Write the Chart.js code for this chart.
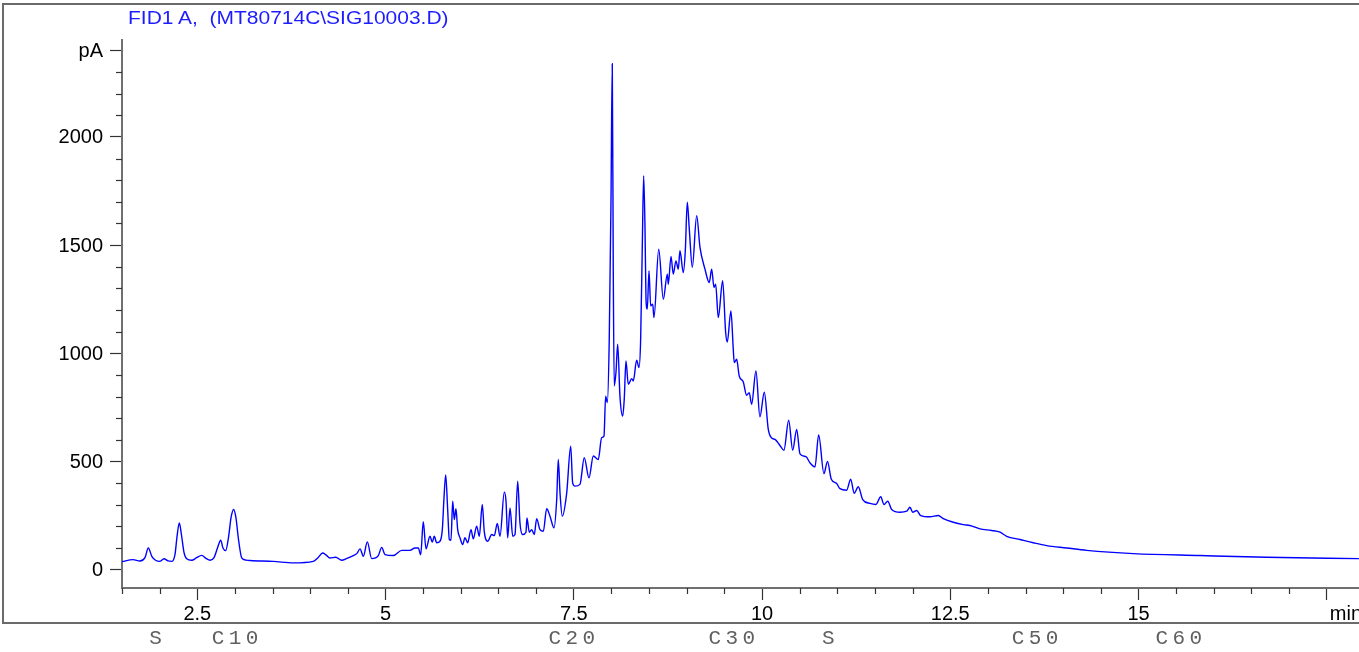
<!DOCTYPE html>
<html>
<head>
<meta charset="utf-8">
<script src="https://cdn.jsdelivr.net/npm/chart.js@4/dist/chart.umd.min.js"></script>
<style>
html,body{margin:0;padding:0;background:#fff;}
#wrap{position:relative;width:1359px;height:652px;overflow:hidden;background:#fff;}
#frame{position:absolute;left:2px;top:3px;width:1400px;height:617px;border-left:2px solid #6a6a6a;border-top:2px solid #6a6a6a;border-bottom:2px solid #6a6a6a;}
#title{position:absolute;left:128px;top:9px;font-family:"Liberation Sans",Arial,sans-serif;font-size:18px;line-height:18px;color:#1c1cff;white-space:pre;transform:scaleX(1.165);transform-origin:0 0;}
#c{position:absolute;left:0;top:0;}
</style>
</head>
<body>
<div id="wrap">
  <div id="frame"></div>
  <canvas id="c" width="1359" height="652"></canvas>
  <div id="title"></div>
</div>
<script>
// ---- data ----
const retentionTimes = [
  1.5, 1.646, 1.739, 1.805, 1.849, 1.898, 1.95, 2.005, 2.058, 2.111, 2.164, 2.204, 2.23, 2.261, 2.29, 2.323, 2.359,
  2.426, 2.49, 2.558, 2.615, 2.669, 2.722, 2.768, 2.811, 2.841, 2.877, 2.915, 2.948, 2.983, 3.013, 3.047, 3.09,
  3.147, 3.2, 3.509, 3.775, 4.04, 4.103, 4.165, 4.209, 4.262, 4.338, 4.418, 4.488, 4.572, 4.621, 4.661, 4.705,
  4.758, 4.816, 4.904, 4.949, 4.993, 5.103, 5.215, 5.325, 5.391, 5.435, 5.467, 5.501, 5.537, 5.59, 5.621, 5.647,
  5.679, 5.723, 5.754, 5.776, 5.799, 5.825, 5.847, 5.869, 5.892, 5.913, 5.935, 5.958, 5.989, 6.024, 6.055, 6.091,
  6.135, 6.165, 6.21, 6.245, 6.285, 6.311, 6.356, 6.41, 6.444, 6.484, 6.52, 6.577, 6.6, 6.622, 6.653, 6.689,
  6.719, 6.755, 6.785, 6.821, 6.865, 6.878, 6.909, 6.941, 6.975, 7.007, 7.051, 7.095, 7.14, 7.184, 7.237, 7.273,
  7.294, 7.317, 7.347, 7.406, 7.459, 7.485, 7.516, 7.582, 7.639, 7.702, 7.759, 7.825, 7.87, 7.901, 7.923, 7.945,
  7.971, 7.994, 8.011, 8.024, 8.037, 8.06, 8.083, 8.113, 8.149, 8.17, 8.193, 8.224, 8.269, 8.29, 8.335, 8.366,
  8.388, 8.41, 8.428, 8.446, 8.459, 8.476, 8.499, 8.521, 8.548, 8.565, 8.628, 8.689, 8.742, 8.755, 8.791, 8.821,
  8.857, 8.888, 8.91, 8.954, 8.981, 9.007, 9.034, 9.074, 9.132, 9.176, 9.242, 9.299, 9.331, 9.362, 9.384, 9.419,
  9.477, 9.517, 9.538, 9.587, 9.618, 9.631, 9.663, 9.697, 9.75, 9.795, 9.83, 9.862, 9.919, 9.972, 10.03, 10.083,
  10.128, 10.172, 10.238, 10.291, 10.354, 10.407, 10.46, 10.504, 10.583, 10.636, 10.703, 10.752, 10.822, 10.869, 10.92, 10.991,
  11.035, 11.124, 11.177, 11.224, 11.278, 11.337, 11.434, 11.513, 11.576, 11.62, 11.669, 11.722, 11.833, 11.921, 11.965, 12.001,
  12.054, 12.107, 12.231, 12.341, 12.407, 12.54, 12.673, 12.761, 12.894, 13.05, 13.16, 13.249, 13.426, 13.602, 13.78, 14.046,
  14.311, 14.931, 15.816, 16.702, 17.927
];
const signalPA = [
  37, 46, 40, 55, 100, 60, 42, 38, 50, 40, 38, 70, 150, 216, 160, 80, 50,
  43, 55, 66, 52, 43, 55, 100, 136, 100, 88, 150, 240, 278, 240, 140, 54,
  44, 42, 38, 31, 38, 55, 77, 68, 54, 57, 43, 52, 65, 75, 96, 62,
  128, 51, 65, 103, 69, 65, 89, 89, 100, 100, 69, 221, 96, 154, 127, 154,
  124, 131, 185, 330, 438, 278, 139, 136, 316, 231, 281, 185, 147, 116, 147, 124,
  185, 142, 201, 154, 301, 177, 131, 162, 157, 213, 154, 358, 316, 147, 285, 154,
  162, 409, 216, 162, 173, 239, 173, 185, 162, 235, 185, 177, 281, 247, 193, 324,
  509, 355, 247, 355, 571, 401, 386, 394, 517, 424, 525, 509, 610, 617, 802, 772,
  1065, 1700, 2338, 1404, 849, 911, 1042, 802, 710, 787, 964, 856, 883, 872, 968, 934,
  1065, 1500, 1821, 1574, 1250, 1204, 1381, 1219, 1227, 1165, 1481, 1250, 1366, 1319, 1448, 1366,
  1427, 1389, 1474, 1373, 1474, 1698, 1574, 1397, 1636, 1489, 1389, 1327, 1389, 1304, 1319, 1165,
  1335, 1096, 1052, 1196, 1019, 957, 972, 895, 868, 806, 818, 764, 918, 706, 820, 648,
  608, 602, 574, 552, 691, 552, 648, 535, 522, 494, 475, 623, 444, 500, 418, 398,
  374, 367, 418, 353, 383, 324, 306, 301, 337, 301, 316, 278, 265, 270, 288, 265,
  273, 250, 244, 250, 236, 219, 208, 204, 188, 181, 173, 154, 139, 124, 111, 100,
  89, 74, 65, 57, 51
];

// ---- axis ticks and labels ----
const xTickValues = [2.5, 5, 7.5, 10, 12.5, 15, 17.5];
const xTickLabels = ['2.5', '5', '7.5', '10', '12.5', '15', ''];
const xUnitLabel = 'min';
const yTickValues = [0, 500, 1000, 1500, 2000, 2400];
const yTickLabels = ['0', '500', '1000', '1500', '2000', 'pA'];
const xMinorStep = 0.5;
const yMinorStep = 100;

// ---- retention markers printed under the frame ----
const markerTimes = [1.945, 3.0, 7.472, 9.597, 10.88, 13.625, 15.535];
const markerLabels = ['S', 'C10', 'C20', 'C30', 'S', 'C50', 'C60'];

const titleText = 'FID1 A,  (MT80714C\\SIG10003.D)';
document.getElementById('title').textContent = titleText;

const points = retentionTimes.map((t, i) => ({ x: t, y: signalPA[i] }));

function labelFor(v, vals, labels) {
  const i = vals.findIndex(t => Math.abs(t - v) < 1e-6);
  return i >= 0 ? labels[i] : '';
}

const decorations = {
  id: 'decorations',
  afterDraw(chart) {
    const ctx = chart.ctx;
    const xs = chart.scales.x, ys = chart.scales.y;
    const area = chart.chartArea;
    ctx.save();
    ctx.strokeStyle = '#333';
    ctx.lineWidth = 1.2;
    // minor x ticks
    for (let t = xs.min; t <= xs.max + 1e-9; t += xMinorStep) {
      const tt = Math.round(t * 1000) / 1000;
      if (xTickValues.some(v => Math.abs(v - tt) < 1e-6)) continue;
      const px = Math.round(xs.getPixelForValue(tt)) + 0.5;
      ctx.beginPath();
      ctx.moveTo(px, area.bottom);
      ctx.lineTo(px, area.bottom + 6);
      ctx.stroke();
    }
    // minor y ticks
    for (let v = 0; v <= ys.max; v += yMinorStep) {
      if (yTickValues.some(u => Math.abs(u - v) < 1e-6)) continue;
      const py = Math.round(ys.getPixelForValue(v)) + 0.5;
      ctx.beginPath();
      ctx.moveTo(area.left - 6, py);
      ctx.lineTo(area.left, py);
      ctx.stroke();
    }
    // unit label on x axis
    ctx.fillStyle = '#000';
    ctx.font = '20px "Liberation Sans", Arial, sans-serif';
    ctx.textAlign = 'left';
    ctx.textBaseline = 'alphabetic';
    ctx.fillText(xUnitLabel, xs.getPixelForValue(17.5) + 3, 620);
    // retention markers
    ctx.fillStyle = '#606060';
    ctx.font = '21px "Liberation Mono", "DejaVu Sans Mono", monospace';
    ctx.textAlign = 'center';
    const adv = 17;
    markerLabels.forEach((lab, i) => {
      const cx = xs.getPixelForValue(markerTimes[i]);
      const n = lab.length;
      for (let k = 0; k < n; k++) {
        ctx.fillText(lab[k], cx + (k - (n - 1) / 2) * adv, 644);
      }
    });
    ctx.restore();
  }
};

new Chart(document.getElementById('c'), {
  type: 'line',
  data: {
    datasets: [{
      data: points,
      borderColor: '#0000ff',
      borderWidth: 1.4,
      pointRadius: 0,
      cubicInterpolationMode: 'monotone',
      fill: false
    }]
  },
  options: {
    responsive: false,
    maintainAspectRatio: false,
    animation: false,
    layout: { padding: { left: 0, right: 0, top: 40, bottom: 0 } },
    plugins: { legend: { display: false }, tooltip: { enabled: false }, title: { display: false } },
    scales: {
      x: {
        type: 'linear',
        min: 1.5,
        max: 17.928,
        afterBuildTicks: s => { s.ticks = xTickValues.map(v => ({ value: v })); },
        afterFit: s => { s.height = 64; },
        grid: { display: true, drawOnChartArea: false, drawTicks: true, tickLength: 12, tickColor: '#333', tickWidth: 1.2 },
        border: { display: true, color: '#707070', width: 2 },
        ticks: {
          autoSkip: false, maxRotation: 0, minRotation: 0, padding: 2, color: '#000',
          font: { family: '"Liberation Sans", Arial, sans-serif', size: 20 },
          callback: v => labelFor(v, xTickValues, xTickLabels)
        }
      },
      y: {
        type: 'linear',
        min: -85,
        max: 2448,
        afterBuildTicks: s => { s.ticks = yTickValues.map(v => ({ value: v })); },
        afterFit: s => { s.width = 122; },
        grid: { display: true, drawOnChartArea: false, drawTicks: true, tickLength: 12, tickColor: '#333', tickWidth: 1.2 },
        border: { display: true, color: '#707070', width: 2 },
        ticks: {
          autoSkip: false, padding: 7, color: '#000', labelOffset: 1,
          font: { family: '"Liberation Sans", Arial, sans-serif', size: 20 },
          callback: v => labelFor(v, yTickValues, yTickLabels)
        }
      }
    }
  },
  plugins: [decorations]
});
</script>
</body>
</html>
